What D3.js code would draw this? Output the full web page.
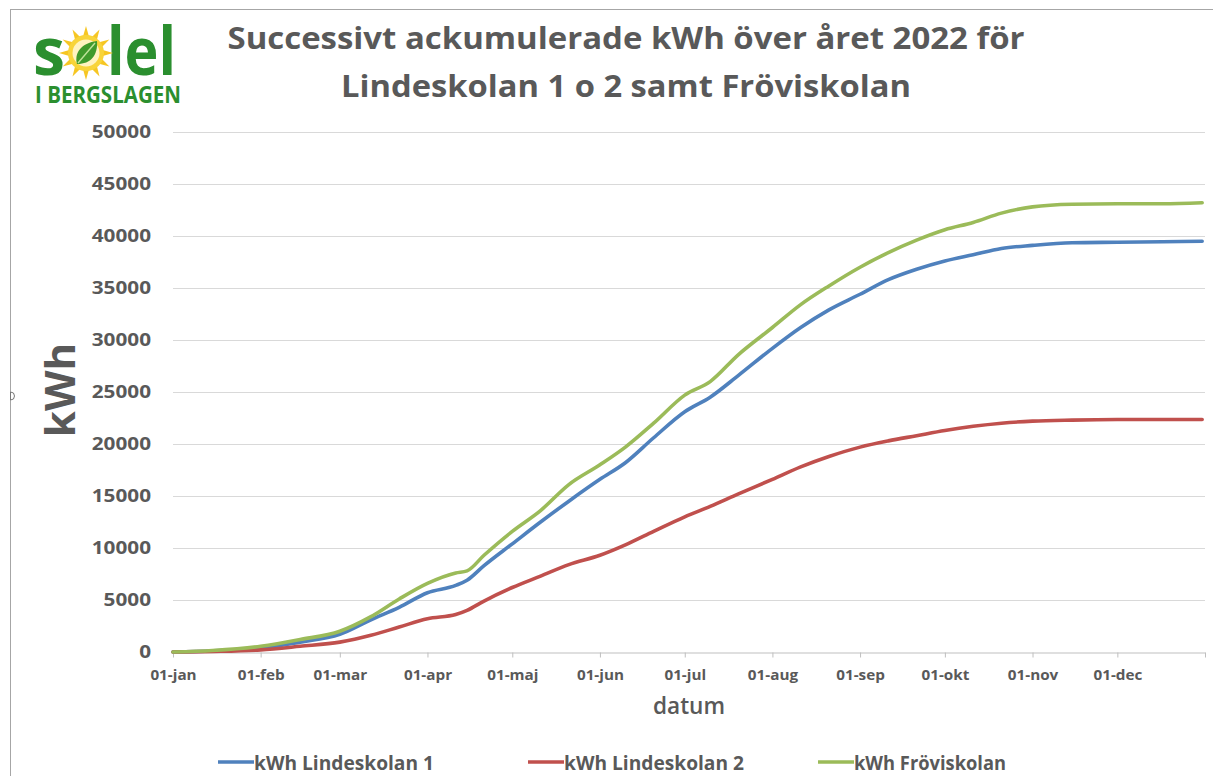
<!DOCTYPE html>
<html>
<head>
<meta charset="utf-8">
<script src="https://cdn.jsdelivr.net/npm/d3@7"></script>
<style>
  html, body { margin: 0; padding: 0; background: #ffffff; }
  svg { display: block; }
  text { font-family: "Open Sans", "DejaVu Sans", sans-serif; }
</style>
</head>
<body>
<svg id="chart" width="1213" height="776"></svg>
<script>
// ---------------- DATA ----------------
const dates = ["2022-01-01","2022-01-15","2022-02-01","2022-02-15","2022-03-01","2022-03-12","2022-03-22",
  "2022-04-01","2022-04-11","2022-04-15","2022-04-21","2022-05-01","2022-05-11","2022-05-21","2022-06-01",
  "2022-06-10","2022-06-20","2022-07-01","2022-07-10","2022-07-20","2022-08-01","2022-08-11","2022-08-21",
  "2022-09-01","2022-09-11","2022-09-21","2022-10-01","2022-10-11","2022-10-21","2022-11-01","2022-11-15",
  "2022-12-01","2022-12-17","2022-12-31"];

const lindeskolan1 = [0,100,400,950,1700,3100,4300,5700,6400,6900,8300,10400,12500,14500,16600,
  18200,20600,23100,24500,26600,29200,31200,32900,34400,35800,36800,37600,38200,38800,39100,39350,
  39400,39450,39500];

const lindeskolan2 = [0,50,200,550,950,1600,2400,3200,3600,4000,4900,6200,7300,8400,9300,
  10300,11600,13000,14000,15200,16600,17800,18800,19700,20300,20800,21300,21700,22000,22200,22300,
  22350,22350,22350];

const froviskolan = [0,150,550,1200,2000,3400,5100,6600,7600,7800,9300,11600,13600,16100,18000,
  19700,22000,24700,26000,28600,31200,33400,35200,37000,38400,39600,40600,41300,42200,42800,43050,
  43100,43100,43200];

const seriesNames = ["kWh Lindeskolan 1", "kWh Lindeskolan 2", "kWh Fröviskolan"];
const seriesColors = ["#4f81bd", "#c0504d", "#9bbb59"];
const monthTicks = ["2022-01-01","2022-02-01","2022-03-01","2022-04-01","2022-05-01","2022-06-01",
  "2022-07-01","2022-08-01","2022-09-01","2022-10-01","2022-11-01","2022-12-01","2023-01-01"];
const monthLabels = ["01-jan","01-feb","01-mar","01-apr","01-maj","01-jun","01-jul","01-aug",
  "01-sep","01-okt","01-nov","01-dec",""];
const yTicks = [0,5000,10000,15000,20000,25000,30000,35000,40000,45000,50000];
const titleLines = ["Successivt ackumulerade kWh över året 2022 för", "Lindeskolan 1 o 2 samt Fröviskolan"];
const xTitle = "datum";
const yTitle = "kWh";

// ---------------- SETUP ----------------
const svg = d3.select("#chart");
const parse = d3.timeParse("%Y-%m-%d");
const gray = "#595959";
const plot = { left: 173, right: 1205, top: 132, bottom: 652 };

const x = d3.scaleTime()
  .domain([parse("2022-01-01"), parse("2023-01-01")])
  .range([plot.left, plot.right]);
const y = d3.scaleLinear().domain([0, 50000]).range([plot.bottom, plot.top]);

function stretch(sel, factor) {
  sel.each(function () {
    const w = this.getComputedTextLength();
    d3.select(this).attr("textLength", w * factor).attr("lengthAdjust", "spacingAndGlyphs");
  });
}

// frame
svg.append("line").attr("x1", 10).attr("x2", 1213).attr("y1", 9.5).attr("y2", 9.5)
  .attr("stroke", "#a6a6a6").attr("stroke-width", 1);
svg.append("line").attr("x1", 10.5).attr("x2", 10.5).attr("y1", 9).attr("y2", 776)
  .attr("stroke", "#a6a6a6").attr("stroke-width", 1);
svg.append("path").attr("d", d3.arc()({ innerRadius: 0, outerRadius: 4, startAngle: 0, endAngle: Math.PI }))
  .attr("transform", "translate(10.5,396)").attr("fill", "#fff").attr("stroke", "#777").attr("stroke-width", 1);

// ---------------- LOGO ----------------
const logoGreen = "#2b8f2f";
const logo = svg.append("g");
logo.append("text").attr("x", 33).attr("y", 75).text("s")
  .attr("font-size", 66).attr("font-weight", 700).attr("fill", logoGreen)
  .attr("textLength", 32).attr("lengthAdjust", "spacingAndGlyphs");
logo.append("text").attr("x", 107).attr("y", 75).text("lel")
  .attr("font-size", 66).attr("font-weight", 700).attr("fill", logoGreen)
  .attr("textLength", 69).attr("lengthAdjust", "spacingAndGlyphs");
const sun = logo.append("g").attr("transform", "translate(86,53)");
d3.range(12).forEach(i => {
  const a = i * Math.PI / 6;
  const r1 = 17, r2 = 27, w = 0.17;
  const p = [[Math.cos(a - w) * r1, Math.sin(a - w) * r1], [Math.cos(a) * r2, Math.sin(a) * r2],
             [Math.cos(a + w) * r1, Math.sin(a + w) * r1]];
  sun.append("path").attr("d", d3.line()(p) + "Z").attr("fill", "#f6c623");
});
sun.append("circle").attr("r", 18).attr("fill", "#f8d43a");
sun.append("circle").attr("r", 13.5).attr("fill", "#fff3c0");
sun.append("path")
  .attr("d", "M-9,11 C-12,0 -5,-10 11,-12 C12,2 5,11 -9,11 Z")
  .attr("fill", "#3f9a2c");
sun.append("path").attr("d", "M-8,10 C-2,3 3,-3 9,-10")
  .attr("stroke", "#bfe39a").attr("stroke-width", 1.4).attr("fill", "none");
logo.append("text").attr("x", 35).attr("y", 103).text("I BERGSLAGEN")
  .attr("font-size", 24).attr("font-weight", 700).attr("fill", logoGreen)
  .attr("textLength", 146).attr("lengthAdjust", "spacingAndGlyphs");

// ---------------- TITLE ----------------
const titleSpecs = [{ y: 49, len: 797 }, { y: 97, len: 570 }];
titleLines.forEach((t, i) => {
  svg.append("text").attr("x", 626).attr("y", titleSpecs[i].y).attr("text-anchor", "middle")
    .attr("font-size", 30).attr("font-weight", 700).attr("fill", gray).text(t)
    .attr("textLength", titleSpecs[i].len).attr("lengthAdjust", "spacingAndGlyphs");
});

// ---------------- GRID ----------------
svg.append("g").selectAll("line").data(yTicks.filter(d => d > 0)).join("line")
  .attr("x1", plot.left).attr("x2", plot.right)
  .attr("y1", d => Math.round(y(d)) + 0.5).attr("y2", d => Math.round(y(d)) + 0.5)
  .attr("stroke", "#d9d9d9").attr("stroke-width", 1);

// ---------------- AXES ----------------
const xAxis = d3.axisBottom(x)
  .tickValues(monthTicks.map(parse))
  .tickFormat((d, i) => monthLabels[i])
  .tickSize(5).tickSizeOuter(0).tickPadding(13);
const gx = svg.append("g").attr("transform", `translate(0,${plot.bottom + 0.5})`).call(xAxis);
gx.select(".domain").attr("stroke", "#bfbfbf");
gx.selectAll(".tick line").attr("stroke", "#bfbfbf");
gx.selectAll(".tick text").attr("font-family", "'Open Sans', sans-serif").attr("font-size", 13.5)
  .attr("font-weight", 700).attr("fill", gray).call(stretch, 1.13);

const yAxis = d3.axisLeft(y).tickValues(yTicks).tickFormat(d => String(d))
  .tickSize(0).tickPadding(22);
const gy = svg.append("g").attr("transform", `translate(${plot.left},0)`).call(yAxis);
gy.select(".domain").remove();
gy.selectAll(".tick text").attr("font-family", "'Open Sans', sans-serif").attr("font-size", 17)
  .attr("font-weight", 700).attr("fill", gray).call(stretch, 1.22);

// axis titles
svg.append("text").attr("x", 689).attr("y", 714).attr("text-anchor", "middle")
  .attr("font-size", 24).attr("font-weight", 600).attr("fill", gray).text(xTitle)
  .attr("textLength", 72).attr("lengthAdjust", "spacingAndGlyphs");
svg.append("text").attr("transform", "translate(75,390) rotate(-90)").attr("text-anchor", "middle")
  .attr("font-size", 42).attr("font-weight", 700).attr("fill", gray).text(yTitle);

// ---------------- LINES ----------------
const allSeries = [lindeskolan1, lindeskolan2, froviskolan];
const line = d3.line().x(d => x(d.date)).y(d => y(d.value)).curve(d3.curveMonotoneX);
allSeries.forEach((vals, si) => {
  const pts = dates.map((d, i) => ({ date: parse(d), value: vals[i] }));
  svg.append("path").datum(pts).attr("d", line)
    .attr("fill", "none").attr("stroke", seriesColors[si]).attr("stroke-width", 3.6)
    .attr("stroke-linejoin", "round").attr("stroke-linecap", "round");
});

// ---------------- LEGEND ----------------
const legendX = [218, 528, 818];
const legendLen = [180, 180, 152];
const lg = svg.append("g");
seriesNames.forEach((name, i) => {
  lg.append("line").attr("x1", legendX[i]).attr("x2", legendX[i] + 36)
    .attr("y1", 762).attr("y2", 762).attr("stroke", seriesColors[i]).attr("stroke-width", 3.6);
  lg.append("text").attr("x", legendX[i] + 36).attr("y", 770).text(name)
    .attr("font-size", 20).attr("font-weight", 700).attr("fill", gray)
    .attr("textLength", legendLen[i]).attr("lengthAdjust", "spacingAndGlyphs");
});
</script>
</body>
</html>
